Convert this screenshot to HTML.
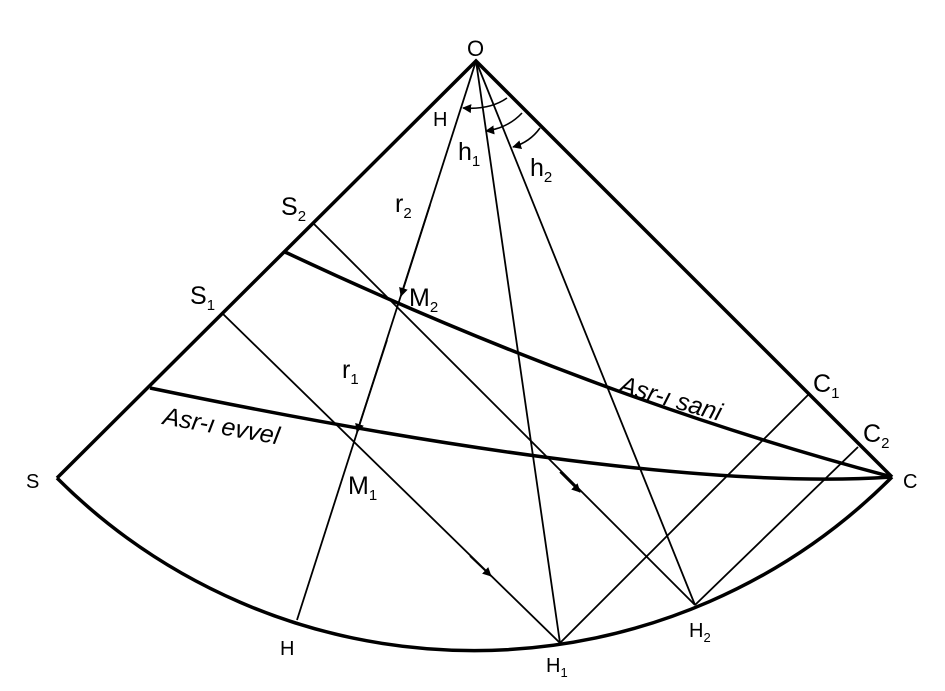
<!DOCTYPE html>
<html><head><meta charset="utf-8"><style>
html,body{margin:0;padding:0;background:#fff;}
svg{display:block;}
text{font-family:"Liberation Sans",Arial,sans-serif;fill:#000;}
</style></head><body>
<svg width="945" height="691" viewBox="0 0 945 691" xmlns="http://www.w3.org/2000/svg">
<defs>
<marker id="a" viewBox="0 0 10 10" refX="9" refY="5" markerWidth="9" markerHeight="9" orient="auto" markerUnits="userSpaceOnUse">
<path d="M0,0 L10,5 L0,10 z" fill="#000"/></marker>
</defs>
<g fill="none" stroke="#000">
<path d="M57,478 L476,61 L892,477" stroke-width="3.5"/>
<path d="M57,478 A590,590 0 0 0 892,477" stroke-width="3.5"/>
<path d="M285,252 Q600,400 892,477" stroke-width="3.5"/>
<path d="M150,388 C400,440 700,490 892,477" stroke-width="3.5"/>
<path d="M476,61 L297,620" stroke-width="1.8"/>
<path d="M476,61 L560,643" stroke-width="1.8"/>
<path d="M476,61 L695,605" stroke-width="1.8"/>
<path d="M313,223 L695,605" stroke-width="1.8"/>
<path d="M222,313 L560,643" stroke-width="1.8"/>
<path d="M808,395 L560,643" stroke-width="1.8"/>
<path d="M858,447 L695,605" stroke-width="1.8"/>
<path d="M430,205 L401,296" stroke-width="1.8" marker-end="url(#a)"/>
<path d="M387,340 L357,432" stroke-width="1.8" marker-end="url(#a)"/>
<path d="M560,472 L580,492" stroke-width="1.8" marker-end="url(#a)"/>
<path d="M470,556 L491,576" stroke-width="1.8" marker-end="url(#a)"/>
<path d="M507,98 Q490,110 463,108" stroke-width="1.6" marker-end="url(#a)"/>
<path d="M522,113 Q508,128 486,131" stroke-width="1.6" marker-end="url(#a)"/>
<path d="M540,128 Q530,142 513,147" stroke-width="1.6" marker-end="url(#a)"/>
</g>
<g font-size="25">
<text x="467" y="56" font-size="22">O</text>
<text x="433" y="126" font-size="20">H</text>
<text x="458" y="160">h<tspan font-size="15" dy="6">1</tspan></text>
<text x="530" y="176">h<tspan font-size="15" dy="6">2</tspan></text>
<text x="281" y="215">S<tspan font-size="15" dy="6">2</tspan></text>
<text x="190" y="304">S<tspan font-size="15" dy="6">1</tspan></text>
<text x="395" y="212">r<tspan font-size="15" dy="6">2</tspan></text>
<text x="342" y="378">r<tspan font-size="15" dy="6">1</tspan></text>
<text x="409" y="306">M<tspan font-size="15" dy="6">2</tspan></text>
<text x="348" y="494">M<tspan font-size="15" dy="6">1</tspan></text>
<text x="26" y="488" font-size="20">S</text>
<text x="903" y="488" font-size="20">C</text>
<text x="813" y="392">C<tspan font-size="15" dy="6">1</tspan></text>
<text x="863" y="442">C<tspan font-size="15" dy="6">2</tspan></text>
<text x="280" y="655" font-size="20">H</text>
<text x="546" y="672" font-size="20">H<tspan font-size="13" dy="5">1</tspan></text>
<text x="689" y="637" font-size="20">H<tspan font-size="13" dy="5">2</tspan></text>
<text font-style="italic" transform="translate(618,392) rotate(16)">Asr-ı sani</text>
<text font-style="italic" transform="translate(162,424) rotate(10)">Asr-ı evvel</text>
</g>
</svg>
</body></html>
